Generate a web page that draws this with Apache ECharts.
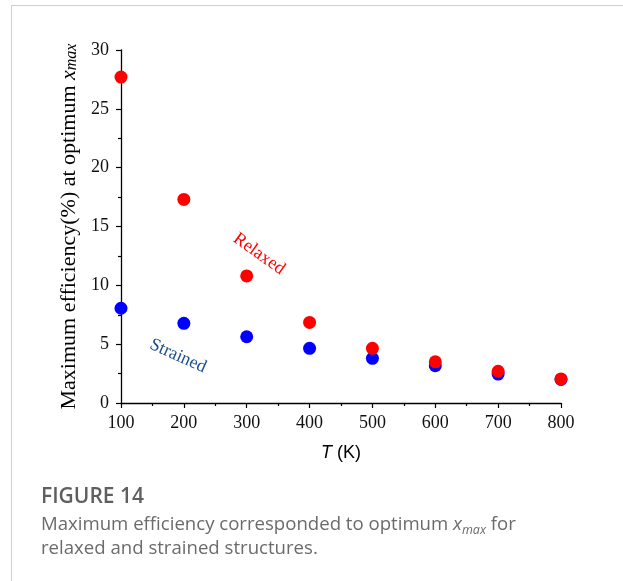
<!DOCTYPE html>
<html>
<head>
<meta charset="utf-8">
<script src="https://cdn.jsdelivr.net/npm/echarts@6/dist/echarts.min.js"></script>
<style>
html,body{margin:0;padding:0;background:#fff;}
#frame{position:absolute;left:11px;top:5px;width:640px;height:600px;border-left:1px solid #cfcfcf;border-top:1px solid #cfcfcf;}
#chart{position:absolute;left:0;top:0;width:623px;height:581px;}
</style>
</head>
<body>
<div id="frame"></div>
<div id="chart"></div>
<script>
const temperatures = [100, 200, 300, 400, 500, 600, 700, 800];
const relaxed = [27.7, 17.3, 10.8, 6.85, 4.65, 3.5, 2.7, 2.05];
const strained = [8.05, 6.77, 5.63, 4.65, 3.8, 3.17, 2.46, 2.0];
const xTicks = [100, 200, 300, 400, 500, 600, 700, 800];
const yTicks = [0, 5, 10, 15, 20, 25, 30];

const chart = echarts.init(document.getElementById('chart'), null, {renderer: 'canvas'});
const serif = '"Liberation Serif", "DejaVu Serif", serif';
const sans = '"Liberation Sans", Arial, sans-serif';

chart.setOption({
  animation: false,
  backgroundColor: 'transparent',
  grid: {left: 121, right: 62, top: 50, bottom: 178},
  xAxis: {
    type: 'value', min: xTicks[0], max: xTicks[xTicks.length-1], interval: 100,
    axisLine: {show: true, lineStyle: {color: '#000', width: 1.3}},
    axisTick: {show: true, inside: false, length: 5, lineStyle: {color: '#000', width: 1.2}},
    minorTick: {show: true, splitNumber: 2, length: 3, lineStyle: {color: '#000', width: 1.2}},
    splitLine: {show: false},
    axisLabel: {color: '#111', fontFamily: serif, fontSize: 18, margin: 11},
    name: '{i|T} (K)', nameLocation: 'middle', nameGap: 41,
    nameTextStyle: {fontFamily: sans, fontSize: 18, color: '#000',
      rich: {i: {fontFamily: sans, fontSize: 18, fontStyle: 'italic', color: '#000'}}}
  },
  yAxis: {
    type: 'value', min: yTicks[0], max: yTicks[yTicks.length-1], interval: 5,
    axisLine: {show: true, lineStyle: {color: '#000', width: 1.3}},
    axisTick: {show: true, inside: false, length: 5, lineStyle: {color: '#000', width: 1.2}},
    minorTick: {show: true, splitNumber: 2, length: 3, lineStyle: {color: '#000', width: 1.2}},
    splitLine: {show: false},
    axisLabel: {color: '#111', fontFamily: serif, fontSize: 18, margin: 12},
    name: 'Maximum efficiency(%) at optimum {i|x}{s|max}', nameLocation: 'middle', nameGap: 40, nameRotate: 90,
    nameTextStyle: {fontFamily: serif, fontSize: 22, color: '#000',
      rich: {
        i: {fontFamily: serif, fontSize: 22, fontStyle: 'italic', color: '#000'},
        s: {fontFamily: serif, fontSize: 16, fontStyle: 'italic', color: '#000', verticalAlign: 'bottom', lineHeight: 16}
      }}
  },
  series: [
    {type: 'scatter', name: 'Strained', symbolSize: 13, itemStyle: {color: '#0000ff', opacity: 1},
     data: temperatures.map((t, i) => [t, strained[i]])},
    {type: 'scatter', name: 'Relaxed', symbolSize: 13, itemStyle: {color: '#ff0000', opacity: 1},
     data: temperatures.map((t, i) => [t, relaxed[i]])}
  ],
  graphic: [
    {type: 'text', x: 259, y: 254, rotation: -0.62,
     style: {text: 'Relaxed', fill: '#ff0000', font: '18px ' + serif, align: 'center', verticalAlign: 'middle'}},
    {type: 'text', x: 178, y: 356, rotation: -0.42,
     style: {text: 'Strained', fill: '#1b4f8c', font: '18px ' + serif, align: 'center', verticalAlign: 'middle'}},
    {type: 'text', left: 41, top: 487,
     style: {text: 'FIGURE 14', fill: '#5f5f5f', font: '600 21px "Open Sans", sans-serif'}},
    {type: 'text', left: 41, top: 513,
     style: {text: 'Maximum efficiency corresponded to optimum {i|x}{s|max} for\nrelaxed and strained structures.',
       fill: '#6b6b6b', font: '18.6px "Open Sans", sans-serif', lineHeight: 24,
       rich: {
         i: {fill: '#6b6b6b', font: 'italic 18.6px "Open Sans", sans-serif'},
         s: {fill: '#6b6b6b', font: 'italic 12.5px "Open Sans", sans-serif', verticalAlign: 'bottom', padding: [7,0,0,0]}
       }}}
  ]
});
</script>
</body>
</html>
